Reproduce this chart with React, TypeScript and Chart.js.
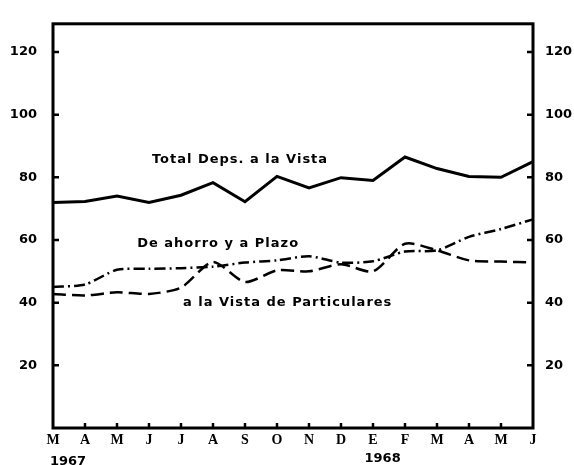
import React, { useEffect, useRef } from "react";
import { Chart, registerables } from "chart.js";

Chart.register(...registerables);

const months = ["M", "A", "M", "J", "J", "A", "S", "O", "N", "D", "E", "F", "M", "A", "M", "J"];
const totalVista = [72, 72.3, 74, 72, 74.3, 78.3, 72.2, 80.3, 76.6, 79.9, 79, 86.5, 82.8, 80.3, 80, 85];
const ahorroPlazo = [45, 45.8, 50.5, 50.8, 51, 51.5, 52.8, 53.5, 54.8, 52.8, 53.2, 56.3, 56.7, 61, 63.5, 66.6];
const vistaParticulares = [42.8, 42.3, 43.3, 42.8, 44.8, 53, 46.6, 50.3, 50, 52.3, 50, 58.8, 56.7, 53.5, 53.1, 52.8];
const yTicks = [20, 40, 60, 80, 100, 120];
const yMin = 0;
const yMax = 129;
const yearLabels = ["1967", "1968"];
const yearIndex = [0.47, 10.3];
const noteTexts = ["Total Deps. a la Vista", "De ahorro y a Plazo", "a la Vista de Particulares"];
const noteIndex = [3.09, 2.63, 4.06];
const noteValue = [85.7, 58.7, 40];

const decorPlugin = {
  id: "decor",
  afterDatasetsDraw(chart: any) {
    const { ctx, chartArea } = chart;
    const { left, right, top, bottom } = chartArea;
    const x = chart.scales.x;
    const y = chart.scales.y;
    ctx.save();
    ctx.strokeStyle = "#000";
    ctx.lineCap = "butt";
    ctx.lineWidth = 3;
    ctx.strokeRect(left, top, right - left, bottom - top);
    ctx.lineWidth = 2.5;
    ctx.beginPath();
    yTicks.forEach((v) => {
      const py = y.getPixelForValue(v);
      ctx.moveTo(left, py);
      ctx.lineTo(left + 6, py);
      ctx.moveTo(right, py);
      ctx.lineTo(right - 6, py);
    });
    months.forEach((_, i) => {
      if (i > 0 && i < months.length - 1) {
        const px = x.getPixelForValue(i);
        ctx.moveTo(px, bottom);
        ctx.lineTo(px, bottom - 5);
      }
    });
    ctx.stroke();

    ctx.fillStyle = "#000";
    ctx.font = 'bold 13px "DejaVu Sans"';
    ctx.textBaseline = "middle";
    ctx.textAlign = "left";
    try { (ctx as any).letterSpacing = "1px"; } catch (e) {}
    noteTexts.forEach((t, i) => {
      ctx.fillText(t, x.getPixelForValue(noteIndex[i]), y.getPixelForValue(noteValue[i]));
    });
    try { (ctx as any).letterSpacing = "0px"; } catch (e) {}
    ctx.font = 'bold 13px "DejaVu Sans"';
    ctx.textAlign = "center";
    yearLabels.forEach((t, i) => {
      ctx.fillText(t, x.getPixelForValue(yearIndex[i]), bottom + 31 + (i === 0 ? 3 : 0));
    });
    ctx.restore();
  },
};

export default function App() {
  const ref = useRef<HTMLCanvasElement | null>(null);
  useEffect(() => {
    document.body.style.margin = "0";
    const canvas = ref.current;
    if (!canvas) return;
    const chart = new Chart(canvas, {
      type: "line",
      data: {
        labels: months,
        datasets: [
          {
            label: "Total Deps. a la Vista",
            data: totalVista,
            borderColor: "#000",
            borderWidth: 3,
            pointRadius: 0,
            tension: 0,
            fill: false,
          },
          {
            label: "De ahorro y a Plazo",
            data: ahorroPlazo,
            borderColor: "#000",
            borderWidth: 2.5,
            borderDash: [11, 4, 2, 4],
            pointRadius: 0,
            tension: 0.25,
            fill: false,
          },
          {
            label: "a la Vista de Particulares",
            data: vistaParticulares,
            borderColor: "#000",
            borderWidth: 2.5,
            borderDash: [13, 6],
            pointRadius: 0,
            tension: 0.25,
            fill: false,
          },
        ],
      },
      options: {
        responsive: false,
        animation: false,
        events: [],
        layout: { padding: { top: 13, left: 0, right: 0, bottom: 0 } },
        plugins: { legend: { display: false }, tooltip: { enabled: false } },
        scales: {
          x: {
            type: "category",
            offset: false,
            grid: { display: false, drawTicks: false },
            border: { display: false },
            ticks: {
              color: "#000",
              padding: 4,
              maxRotation: 0,
              autoSkip: false,
              font: { family: "Liberation Serif", weight: "bold", size: 14 },
            },
            afterFit: (s: any) => { s.height = 37; },
          },
          y: {
            position: "left",
            min: yMin,
            max: yMax,
            grid: { display: false, drawTicks: false },
            border: { display: false },
            afterBuildTicks: (s: any) => { s.ticks = yTicks.map((v) => ({ value: v })); },
            ticks: {
              color: "#000",
              padding: 16,
              font: { family: "DejaVu Sans", weight: "bold", size: 13 },
            },
            afterFit: (s: any) => { s.width = 53; },
          },
          y2: {
            position: "right",
            min: yMin,
            max: yMax,
            grid: { display: false, drawTicks: false },
            border: { display: false },
            afterBuildTicks: (s: any) => { s.ticks = yTicks.map((v) => ({ value: v })); },
            ticks: {
              color: "#000",
              padding: 12,
              font: { family: "DejaVu Sans", weight: "bold", size: 13 },
            },
            afterFit: (s: any) => { s.width = 41; },
          },
        },
      },
      plugins: [decorPlugin],
    });
    return () => chart.destroy();
  }, []);
  return (
    <div style={{ background: "#fff", width: 574, height: 465 }}>
      <canvas ref={ref} width={574} height={465} style={{ display: "block", width: 574, height: 465 }} />
    </div>
  );
}
